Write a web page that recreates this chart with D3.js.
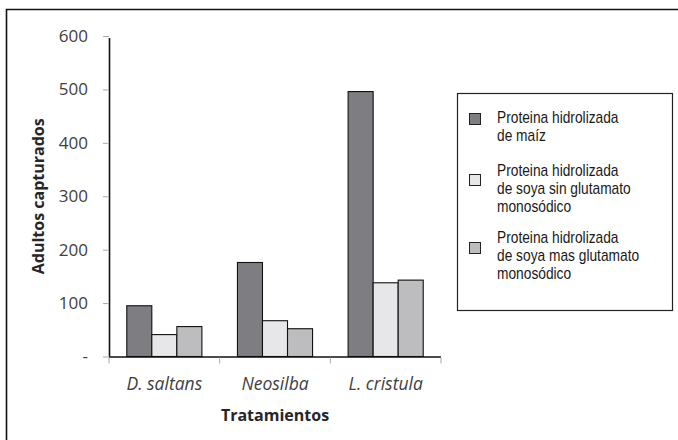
<!DOCTYPE html>
<html>
<head>
<meta charset="utf-8">
<script src="https://cdn.jsdelivr.net/npm/d3@7"></script>
<style>
  body { margin: 0; background: #fff; }
  .tick text { font-family: "Open Sans", sans-serif; }
</style>
</head>
<body>
<div id="chart"></div>
<script>
// data
const categories = ["D. saltans", "Neosilba", "L. cristula"];
const series = [
  "Proteina hidrolizada de maíz",
  "Proteina hidrolizada de soya sin glutamato monosódico",
  "Proteina hidrolizada de soya mas glutamato monosódico"
];
const maiz = [95, 176, 496];
const soyaSin = [41, 67, 138];
const soyaMas = [56, 52, 143];
const yTicks = [0, 100, 200, 300, 400, 500, 600];
const legendLines = [
  ["Proteina hidrolizada", "de maíz"],
  ["Proteina hidrolizada", "de soya sin glutamato", "monosódico"],
  ["Proteina hidrolizada", "de soya mas glutamato", "monosódico"]
];

const values = [maiz, soyaSin, soyaMas];
const colors = ["#7e7e82", "#e7e7e9", "#bdbdbf"];

const width = 678, height = 440;
const margin = {top: 36, left: 109, right: 237, bottom: 83};

const svg = d3.select("#chart")
  .append("svg")
  .attr("width", width)
  .attr("height", height);

// outer frame (top and left edges visible)
svg.append("path")
  .attr("d", `M6.5,${height} V9.5 H${width}`)
  .attr("fill", "none")
  .attr("stroke", "#111")
  .attr("stroke-width", 1.6);

// scales
const x0 = d3.scaleBand()
  .domain(categories)
  .range([margin.left, width - margin.right])
  .paddingInner(0).paddingOuter(0);

const x1 = d3.scaleBand()
  .domain(d3.range(series.length))
  .range([0, x0.bandwidth()])
  .paddingInner(0).paddingOuter(0.71);

const y = d3.scaleLinear()
  .domain([0, 600])
  .range([height - margin.bottom - 0.5, margin.top]);

// bars
const groups = svg.selectAll(".grp")
  .data(categories)
  .enter().append("g")
  .attr("transform", d => `translate(${x0(d)},0)`);

groups.selectAll("rect")
  .data((d, i) => values.map((v, s) => ({s: s, v: v[i]})))
  .enter().append("rect")
  .attr("x", d => x1(d.s))
  .attr("width", x1.bandwidth())
  .attr("y", d => y(d.v))
  .attr("height", d => y(0) - y(d.v))
  .attr("fill", d => colors[d.s])
  .attr("stroke", "#111")
  .attr("stroke-width", 1.1);

// y axis
const yAxis = svg.append("g")
  .attr("transform", `translate(${margin.left},0)`)
  .call(d3.axisLeft(y).tickValues(yTicks).tickSize(6).tickPadding(15)
    .tickFormat(d => d === 0 ? "-" : d));
yAxis.select(".domain").attr("stroke", "#111").attr("stroke-width", 1.6)
  .attr("d", `M0.5,${y(600) + 2}V${y(0)}`);
yAxis.selectAll(".tick line").attr("stroke", "#aaa");
yAxis.selectAll(".tick text")
  .attr("fill", "#404040")
  .style("font-size", "17px");

// x axis
const xAxis = svg.append("g")
  .attr("transform", `translate(0,${y(0)})`)
  .call(d3.axisBottom(x0).tickSize(0).tickPadding(21));
xAxis.select(".domain").attr("stroke", "#111").attr("stroke-width", 1.6)
  .attr("d", `M${margin.left},0.5H${width - margin.right}`);
xAxis.selectAll(".tick text")
  .attr("fill", "#404040")
  .style("font-size", "17.5px")
  .style("font-style", "italic");

// category separator ticks
xAxis.selectAll(".sep")
  .data(categories.concat(["end"]))
  .enter().append("line")
  .attr("x1", (d, i) => i < categories.length ? x0(d) : x0.range()[1])
  .attr("x2", (d, i) => i < categories.length ? x0(d) : x0.range()[1])
  .attr("y1", 1)
  .attr("y2", 7)
  .attr("stroke", "#aaa");

// axis labels
svg.append("text")
  .attr("x", (margin.left + width - margin.right) / 2)
  .attr("y", 421)
  .attr("text-anchor", "middle")
  .attr("fill", "#262626")
  .style("font-family", "'Open Sans', sans-serif")
  .style("font-weight", "bold")
  .style("font-size", "16px")
  .text("Tratamientos");

svg.append("text")
  .attr("transform", "rotate(-90)")
  .attr("x", -(y(0) + y(600)) / 2)
  .attr("y", 44)
  .attr("text-anchor", "middle")
  .attr("fill", "#262626")
  .style("font-family", "'Open Sans', sans-serif")
  .style("font-weight", "bold")
  .style("font-size", "16px")
  .text("Adultos capturados");

// legend
const legend = svg.append("g");
legend.append("rect")
  .attr("x", 457.5).attr("y", 93.5)
  .attr("width", 215).attr("height", 217)
  .attr("fill", "#fff")
  .attr("stroke", "#222")
  .attr("stroke-width", 1.2);

const entryBase = [123, 176, 243];
const swatchTop = [113, 174, 242];
legendLines.forEach((lines, i) => {
  legend.append("rect")
    .attr("x", 469.5).attr("y", swatchTop[i] + 0.5)
    .attr("width", 11).attr("height", 11)
    .attr("fill", colors[i])
    .attr("stroke", "#222");
  // narrow font: Liberation Sans squeezed horizontally
  const t = legend.append("text")
    .attr("transform", `translate(497,${entryBase[i]}) scale(0.86,1)`)
    .attr("fill", "#1a1a1a")
    .style("font-family", "'Liberation Sans', Arial, sans-serif")
    .style("font-size", "16px");
  lines.forEach((ln, j) => {
    t.append("tspan").attr("x", 0).attr("dy", j === 0 ? 0 : 17.8).text(ln);
  });
});
</script>
</body>
</html>
